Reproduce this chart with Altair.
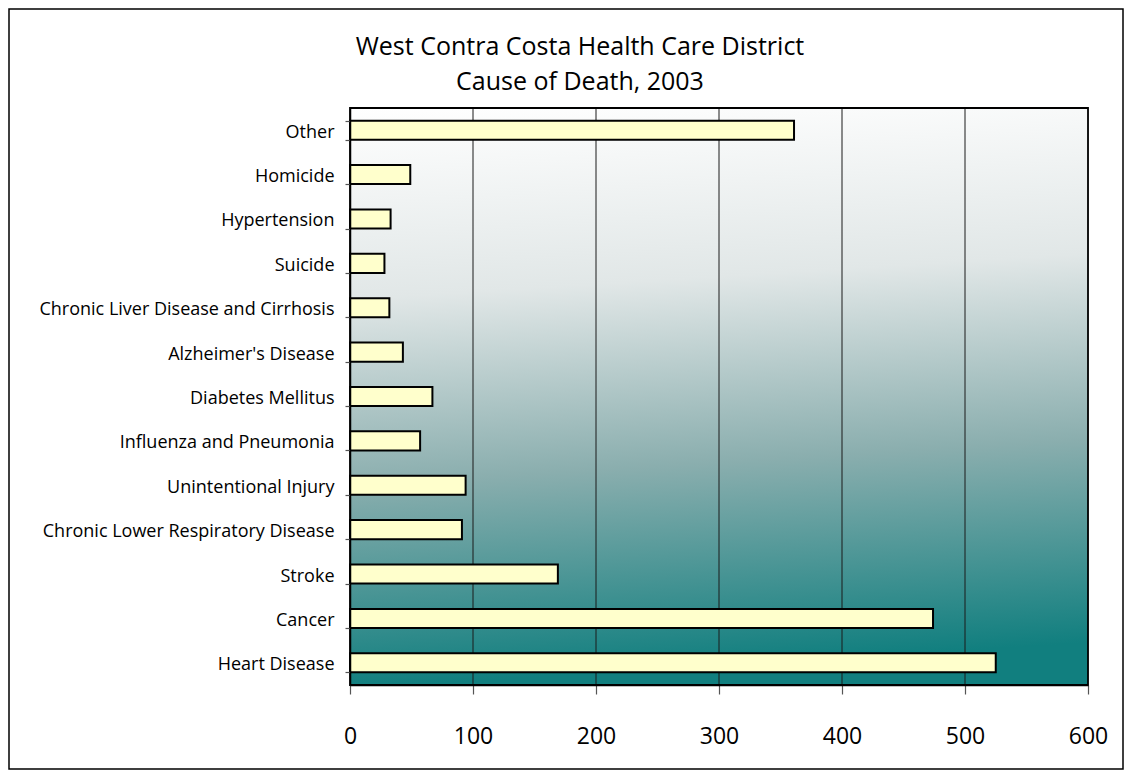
import altair as alt
import pandas as pd

causes = [
    "Other", "Homicide", "Hypertension", "Suicide",
    "Chronic Liver Disease and Cirrhosis", "Alzheimer's Disease",
    "Diabetes Mellitus", "Influenza and Pneumonia", "Unintentional Injury",
    "Chronic Lower Respiratory Disease", "Stroke", "Cancer", "Heart Disease",
]
deaths = [361, 49, 33, 28, 32, 43, 67, 57, 94, 91, 169, 474, 525]
x_ticks = [0, 100, 200, 300, 400, 500, 600]
title_lines = ["West Contra Costa Health Care District", "Cause of Death, 2003"]

df = pd.DataFrame({"cause": causes, "deaths": deaths})

W, H = 738, 577
PAD_L, PAD_T, PAD_R, PAD_B = 342, 100, 36, 85

FONT = "Open Sans"

gradient = alt.Gradient(
    gradient="linear", x1=0, y1=0, x2=0.08, y2=1,
    stops=[
        alt.GradientStop(color="#ffffff", offset=0),
        alt.GradientStop(color="#e1e7e7", offset=0.33),
        alt.GradientStop(color="#8aaeae", offset=0.65),
        alt.GradientStop(color="#117f7f", offset=1),
    ],
)

one = pd.DataFrame({"k": [0]})

bg = alt.Chart(one).mark_rect(color=gradient).encode(
    x=alt.value(0), x2=alt.value("width"), y=alt.value(0), y2=alt.value("height")
)

plot_border = alt.Chart(one).mark_rect(
    fill=None, stroke="black", strokeWidth=1.8
).encode(
    x=alt.value(0), x2=alt.value("width"), y=alt.value(0), y2=alt.value("height")
)

frame = alt.Chart(one).mark_rect(
    fill=None, stroke="black", strokeWidth=1.5
).encode(
    x=alt.value(-PAD_L + 1), x2=alt.value(W + PAD_R - 1),
    y=alt.value(-PAD_T + 1), y2=alt.value(H + PAD_B - 1),
)

title1 = alt.Chart(one).mark_text(
    text=title_lines[0], font=FONT, fontSize=25, color="black",
    align="center", baseline="alphabetic",
).encode(x=alt.value(230), y=alt.value(-53))
title2 = alt.Chart(one).mark_text(
    text=title_lines[1], font=FONT, fontSize=25, color="black",
    align="center", baseline="alphabetic",
).encode(x=alt.value(230), y=alt.value(-18))

xscale = alt.Scale(domain=[0, 600], nice=False)
yscale = alt.Scale(domain=causes, paddingInner=0.57, paddingOuter=0.285)

xaxis = alt.Axis(
    values=x_ticks, grid=False, domainColor="black", domainWidth=1.5,
    tickColor="#555555", tickSize=9, tickWidth=1.2,
    labelFont=FONT, labelFontSize=23, labelColor="black",
    labelPadding=31, labelFlush=False, zindex=1,
)

grid = alt.Chart(pd.DataFrame({"t": x_ticks[1:-1]})).mark_rule(
    color="#1a1a1a", strokeWidth=1
).encode(x=alt.X("t:Q", scale=xscale, axis=xaxis, title=None))

bars = alt.Chart(df).mark_bar(
    fill="#ffffcc", stroke="black", strokeWidth=2
).encode(
    x=alt.X("deaths:Q", scale=xscale, title=None, axis=xaxis),
    y=alt.Y(
        "cause:N", scale=yscale, sort=causes, title=None,
        axis=alt.Axis(
            tickBand="extent", domainColor="black", domainWidth=1.5,
            tickColor="#555555", tickSize=5, tickWidth=1.2,
            labelFont=FONT, labelFontSize=18, labelColor="black",
            labelPadding=11, labelLimit=400, labelOffset=2, zindex=1,
        ),
    ),
)

chart = alt.layer(bg, grid, bars, plot_border, frame, title1, title2).properties(
    width=W, height=H,
    padding={"left": PAD_L, "top": PAD_T, "right": PAD_R, "bottom": PAD_B},
    autosize=alt.AutoSizeParams(type="none"),
).configure_view(stroke=None).configure(background="white")

chart.save("out.html", embed_options={"renderer": "svg", "actions": False})
